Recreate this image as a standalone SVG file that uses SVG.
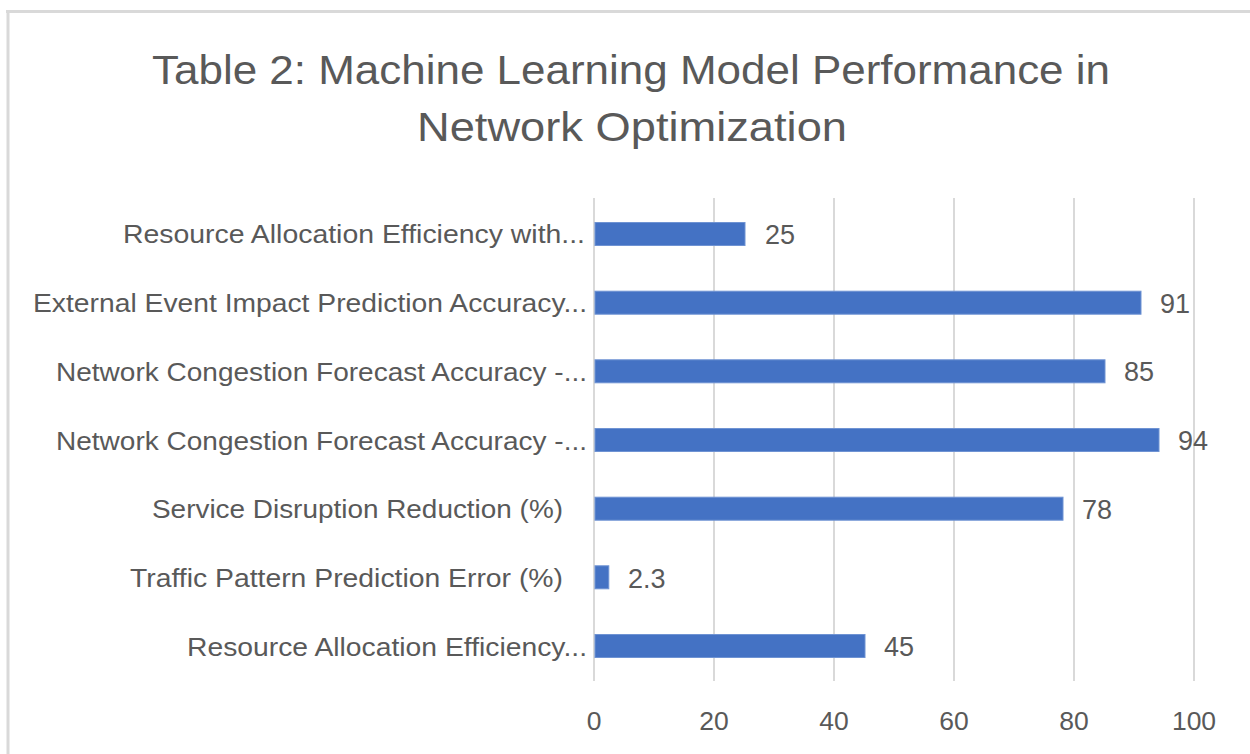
<svg xmlns="http://www.w3.org/2000/svg" width="1250" height="754" viewBox="0 0 1250 754">
<style>
text{font-family:"Liberation Sans",Arial,sans-serif;fill:#595959}
.title{font-size:40.5px}
.cat{font-size:26px}
.val{font-size:27px}
.tick{font-size:26.5px;text-anchor:middle}
.grid{stroke:#D9D9D9;stroke-width:2}
.bar{fill:#4472C4;stroke:#6F93D3;stroke-width:1}
</style>
<rect x="0" y="0" width="1250" height="754" fill="#FFFFFF"/>
<g id="frame">
<line x1="6" y1="11.5" x2="1250" y2="11.5" stroke="#D9D9D9" stroke-width="3"/>
<line x1="8" y1="10" x2="8" y2="754" stroke="#D9D9D9" stroke-width="3"/>
</g>
<g id="title">
<text class="title" x="152" y="84" textLength="958" lengthAdjust="spacingAndGlyphs">Table 2: Machine Learning Model Performance in</text>
<text class="title" x="417" y="141" textLength="430" lengthAdjust="spacingAndGlyphs">Network Optimization</text>
</g>
<g id="gridlines">
<line class="grid" x1="594" y1="198" x2="594" y2="681"/>
<line class="grid" x1="714" y1="198" x2="714" y2="681"/>
<line class="grid" x1="834" y1="198" x2="834" y2="681"/>
<line class="grid" x1="954" y1="198" x2="954" y2="681"/>
<line class="grid" x1="1074" y1="198" x2="1074" y2="681"/>
<line class="grid" x1="1194" y1="198" x2="1194" y2="681"/>
</g>
<g id="axis-labels">
<text class="tick" x="594" y="730">0</text>
<text class="tick" x="714" y="730">20</text>
<text class="tick" x="834" y="730">40</text>
<text class="tick" x="954" y="730">60</text>
<text class="tick" x="1074" y="730">80</text>
<text class="tick" x="1194" y="730">100</text>
</g>
<g id="row1">
<text class="cat" x="123" y="243" textLength="462" lengthAdjust="spacingAndGlyphs">Resource Allocation Efficiency with...</text>
<rect class="bar" x="595" y="222.5" width="150" height="23"/>
<text class="val" x="765" y="243.5">25</text>
</g>
<g id="row2">
<text class="cat" x="33" y="312" textLength="554" lengthAdjust="spacingAndGlyphs">External Event Impact Prediction Accuracy...</text>
<rect class="bar" x="595" y="291.2" width="546" height="23"/>
<text class="val" x="1160" y="312.5">91</text>
</g>
<g id="row3">
<text class="cat" x="56" y="380.5" textLength="531" lengthAdjust="spacingAndGlyphs">Network Congestion Forecast Accuracy -...</text>
<rect class="bar" x="595" y="359.8" width="510" height="23"/>
<text class="val" x="1124" y="381">85</text>
</g>
<g id="row4">
<text class="cat" x="56" y="449.5" textLength="531" lengthAdjust="spacingAndGlyphs">Network Congestion Forecast Accuracy -...</text>
<rect class="bar" x="595" y="428.5" width="564" height="23"/>
<text class="val" x="1178" y="450">94</text>
</g>
<g id="row5">
<text class="cat" x="152" y="518" textLength="411" lengthAdjust="spacingAndGlyphs">Service Disruption Reduction (%)</text>
<rect class="bar" x="595" y="497.2" width="468" height="23"/>
<text class="val" x="1082" y="518.5">78</text>
</g>
<g id="row6">
<text class="cat" x="130" y="587" textLength="433" lengthAdjust="spacingAndGlyphs">Traffic Pattern Prediction Error (%)</text>
<rect class="bar" x="595" y="565.8" width="13.8" height="23"/>
<text class="val" x="628" y="587.5">2.3</text>
</g>
<g id="row7">
<text class="cat" x="187" y="655.5" textLength="400" lengthAdjust="spacingAndGlyphs">Resource Allocation Efficiency...</text>
<rect class="bar" x="595" y="634.5" width="270" height="23"/>
<text class="val" x="884" y="656">45</text>
</g>
</svg>
